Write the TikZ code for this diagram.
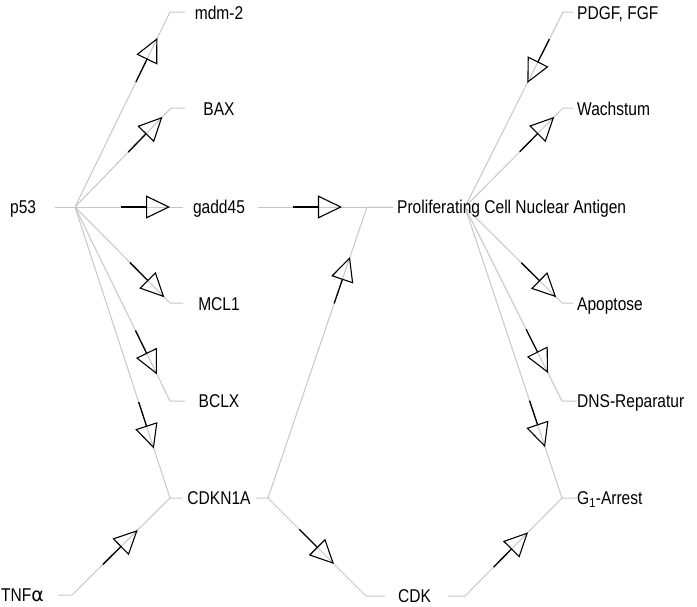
\documentclass[tikz,border=0pt]{standalone}
\usepackage{fontspec}
\setmainfont{Liberation Sans}[FakeStretch=0.84]
\newfontfamily\greekfont{DejaVu Sans}
\usetikzlibrary{calc,arrows.meta}
\newcommand\sigarrow[3]{%
  \path (#1) -- (#2) coordinate[pos=#3] (tmpT);
  \draw[sig] ($(tmpT)!49pt!(#1)$) -- (tmpT);}
\begin{document}
\begin{tikzpicture}[x=1pt,y=-1pt,
  conn/.style={draw=black!22, line width=1pt},
  sig/.style={draw=black, line width=1.3pt, -{Triangle[open,length=24pt,width=23pt,line width=1.1pt]}},
  lbl/.style={inner sep=0pt, font=\fontsize{18.5}{20}\selectfont},
  lw/.style={lbl, anchor=base west},
  lc/.style={lbl, anchor=base}]
\useasboundingbox (0,0) rectangle (697,606);
% hub coordinates
\coordinate (p53S) at (55,207);   \coordinate (p53R) at (75,207);
\coordinate (tnfS) at (58,595);   \coordinate (tnfR) at (72,595);
\coordinate (mdmL) at (170,12);   \coordinate (mdmS) at (185,12);
\coordinate (baxL) at (171,108);  \coordinate (baxS) at (185,108);
\coordinate (gaddL) at (183,207); \coordinate (gaddR) at (258,207);
\coordinate (mclL) at (170,303);  \coordinate (mclS) at (183,303);
\coordinate (bclL) at (170,401);  \coordinate (bclS) at (185,401);
\coordinate (cdknL) at (170,498); \coordinate (cdknLS) at (182,498);
\coordinate (cdknRS) at (256,498); \coordinate (cdknR) at (268,498);
\coordinate (cdkL) at (366,596);  \coordinate (cdkLS) at (385,596);
\coordinate (cdkRS) at (448,596); \coordinate (cdkR) at (465,596);
\coordinate (pcnaL) at (367,207); \coordinate (pcnaLS) at (393,207);
\coordinate (pcnaR) at (465,207);
\coordinate (pdgfL) at (563,12);  \coordinate (pdgfS) at (573,12);
\coordinate (wachL) at (563,108); \coordinate (wachS) at (573,108);
\coordinate (apoL) at (562,303);  \coordinate (apoS) at (573,303);
\coordinate (dnsL) at (562,401);  \coordinate (dnsS) at (577,401);
\coordinate (g1L) at (562,498);   \coordinate (g1S) at (577,498);
% connectors
\draw[conn] (p53S) -- (p53R);
\draw[conn] (p53R) -- (mdmL) -- (mdmS);
\draw[conn] (p53R) -- (baxL) -- (baxS);
\draw[conn] (p53R) -- (gaddL);
\draw[conn] (p53R) -- (mclL) -- (mclS);
\draw[conn] (p53R) -- (bclL) -- (bclS);
\draw[conn] (p53R) -- (cdknL) -- (cdknLS);
\draw[conn] (tnfS) -- (tnfR) -- (cdknL);
\draw[conn] (cdknRS) -- (cdknR) -- (pcnaL) -- (pcnaLS);
\draw[conn] (cdknR) -- (cdkL) -- (cdkLS);
\draw[conn] (gaddR) -- (pcnaLS);
\draw[conn] (pdgfS) -- (pdgfL) -- (pcnaR);
\draw[conn] (pcnaR) -- (wachL) -- (wachS);
\draw[conn] (pcnaR) -- (apoL) -- (apoS);
\draw[conn] (pcnaR) -- (dnsL) -- (dnsS);
\draw[conn] (pcnaR) -- (g1L) -- (g1S);
\draw[conn] (cdkRS) -- (cdkR) -- (g1L);
% arrow heads
\sigarrow{p53R}{mdmL}{0.867}
\sigarrow{p53R}{baxL}{0.91}
\sigarrow{p53R}{gaddL}{0.88}
\sigarrow{p53R}{mclL}{0.94}
\sigarrow{p53R}{bclL}{0.863}
\sigarrow{p53R}{cdknL}{0.83}
\sigarrow{tnfR}{cdknL}{0.67}
\sigarrow{gaddR}{pcnaLS}{0.622}
\sigarrow{cdknR}{pcnaL}{0.828}
\sigarrow{cdknR}{cdkL}{0.673}
\sigarrow{pdgfL}{pcnaR}{0.364}
\sigarrow{pcnaR}{wachL}{0.91}
\sigarrow{pcnaR}{apoL}{0.94}
\sigarrow{pcnaR}{dnsL}{0.856}
\sigarrow{pcnaR}{g1L}{0.825}
\sigarrow{cdkR}{g1L}{0.65}
% labels
\node[lw] (p53) at (10,213.6) {p53};
\node[lw] (tnf) at (1,601.6) {TNF{\greekfont\fontsize{19}{20}\selectfont α}};
\node[lc] (mdm) at (219,19) {mdm-2};
\node[lc] (bax) at (219,115.6) {BAX};
\node[lc] (gadd) at (219,213.6) {gadd45};
\node[lc] (mcl) at (219,310.6) {MCL1};
\node[lc] (bcl) at (219,407.6) {BCLX};
\node[lc] (cdkn) at (219,504.6) {CDKN1A};
\node[lw] (cdk) at (398,602.6) {CDK};
\node[lw] (pcna) at (397,213.6) {Proliferating Cell Nuclear Antigen};
\node[lw] (pdgf) at (577,19) {PDGF, FGF};
\node[lw] (wach) at (577,115.6) {Wachstum};
\node[lw] (apo) at (577,310.6) {Apoptose};
\node[lw] (dns) at (577,407.6) {DNS-Reparatur};
\node[lw] (g1) at (577,504.6) {G\textsubscript{1}-Arrest};
\end{tikzpicture}
\end{document}
